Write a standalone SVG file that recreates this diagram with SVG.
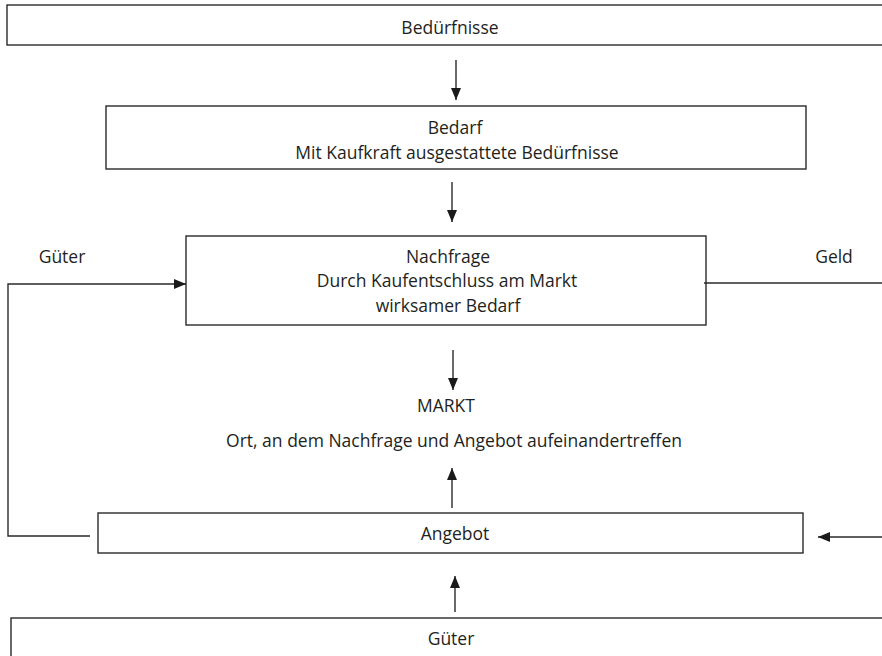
<svg xmlns="http://www.w3.org/2000/svg" width="882" height="656" viewBox="0 0 882 656">
<defs>
<style>
.box{fill:#fff;stroke:#2a2a2a;stroke-width:1.4}
.t{font-family:"Open Sans","Noto Sans","Liberation Sans",sans-serif;font-size:17.5px;fill:#231f20;text-anchor:middle}
.c{fill:none;stroke:#2a2a2a;stroke-width:1.4}
</style>
<marker id="ah" markerUnits="userSpaceOnUse" markerWidth="12" markerHeight="10" refX="12" refY="5" orient="auto">
<path d="M0,0 L12,5 L0,10 z" fill="#1a1a1a"/>
</marker>
</defs>
<rect width="882" height="656" fill="#fff"/>
<g id="beduerfnisse">
<rect class="box" x="7" y="5" width="890" height="40"/>
<text class="t" x="450" y="34">Bedürfnisse</text>
</g>
<g id="bedarf">
<rect class="box" x="106" y="106" width="700" height="63"/>
<text class="t" x="455" y="134">Bedarf</text>
<text class="t" x="457" y="159">Mit Kaufkraft ausgestattete Bedürfnisse</text>
</g>
<g id="nachfrage">
<rect class="box" x="186" y="236" width="520" height="89"/>
<text class="t" x="448" y="263">Nachfrage</text>
<text class="t" x="447" y="287">Durch Kaufentschluss am Markt</text>
<text class="t" x="448" y="312">wirksamer Bedarf</text>
</g>
<g id="markt">
<text class="t" x="446" y="412">MARKT</text>
<text class="t" x="454" y="447">Ort, an dem Nachfrage und Angebot aufeinandertreffen</text>
</g>
<g id="angebot">
<rect class="box" x="98" y="513" width="705" height="40"/>
<text class="t" x="455" y="540">Angebot</text>
</g>
<g id="gueter">
<rect class="box" x="11" y="618" width="890" height="50"/>
<text class="t" x="451" y="645">Güter</text>
</g>
<g id="labels">
<text class="t" x="62" y="263">Güter</text>
<text class="t" x="834" y="263">Geld</text>
</g>
<g id="connectors">
<line class="c" x1="456" y1="60" x2="456" y2="100" marker-end="url(#ah)"/>
<line class="c" x1="452" y1="182" x2="452" y2="222" marker-end="url(#ah)"/>
<line class="c" x1="453" y1="350" x2="453" y2="390" marker-end="url(#ah)"/>
<line class="c" x1="452" y1="508" x2="452" y2="468" marker-end="url(#ah)"/>
<line class="c" x1="455" y1="612" x2="455" y2="576" marker-end="url(#ah)"/>
<polyline class="c" points="90,536 8,536 8,284 186,284" marker-end="url(#ah)"/>
<line class="c" x1="704" y1="283" x2="882" y2="283"/>
<line class="c" x1="882" y1="537" x2="818" y2="537" marker-end="url(#ah)"/>
</g>
</svg>
